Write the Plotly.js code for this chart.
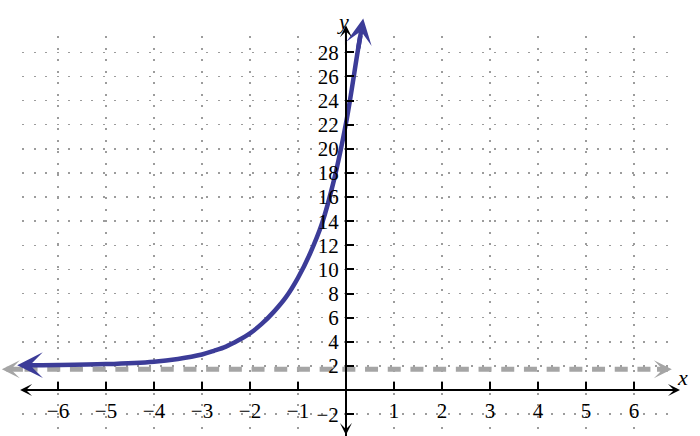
<!DOCTYPE html>
<html>
<head>
<meta charset="utf-8">
<script src="https://cdn.plot.ly/plotly-3.0.1.min.js"></script>
<style>html,body{margin:0;padding:0;background:#fff;}#chart{width:700px;height:436px;}</style>
</head>
<body>
<div id="chart"></div>
<script>
// Curve (x, y); last point is the arrow tip
const curveX = [-6.85, -6, -5, -4, -3.5, -3, -2.75, -2.5, -2.25, -2, -1.75, -1.5, -1.25, -1, -0.75, -0.5, -0.25, 0, 0.25, 0.36];
const curveY = [2.05, 2.07, 2.15, 2.35, 2.58, 2.95, 3.25, 3.6, 4.1, 4.7, 5.5, 6.5, 7.7, 9.3, 11.3, 13.8, 17.4, 22.1, 28.2, 30.8];
// Horizontal asymptote (dashed grey), ends are arrow tips
const asymX = [-7.17, 6.79];
const asymY = [1.72, 1.72];
// Axis arrow tips
const xAxisEnds = [-6.79, 6.96];
const yAxisEnds = [-3.73, 30.24];
// Ticks
const xTicks = [-6, -5, -4, -3, -2, -1, 0, 1, 2, 3, 4, 5, 6];
const xTickText = ['\u22126', '\u22125', '\u22124', '\u22123', '\u22122', '\u22121', '', '1', '2', '3', '4', '5', '6'];
const yTicks = [-2, 0, 2, 4, 6, 8, 10, 12, 14, 16, 18, 20, 22, 24, 26, 28];
const yTickText = ['\u22122', '', '2', '4', '6', '8', '10', '12', '14', '16', '18', '20', '22', '24', '26', '28'];

const xRange = [-6.75, 6.71];
const yRange = [-3.81, 29.35];

const BLUE = '#3c3c98';
const GREY = '#a5a5a5';
const FONT = "'Liberation Serif', 'Times New Roman', Times, serif";

const traces = [
  {x: asymX, y: asymY, mode: 'lines', line: {color: GREY, width: 5, dash: '13px,9.7px'}, hoverinfo: 'skip'},
  {x: curveX, y: curveY, mode: 'lines', line: {color: BLUE, width: 4.5, shape: 'spline', smoothing: 1}, hoverinfo: 'skip'}
];

function arrow(tipX, tipY, tailX, tailY, color, width, size) {
  return {x: tipX, y: tipY, ax: tailX, ay: tailY, xref: 'x', yref: 'y', axref: 'x', ayref: 'y',
    text: '', showarrow: true, arrowhead: 3, arrowcolor: color, arrowwidth: width, arrowsize: size, standoff: 0};
}
const n = curveX.length;
const annotations = [
  arrow(xAxisEnds[1], 0, 6.4, 0, '#000', 2, 1),
  arrow(xAxisEnds[0], 0, -6.4, 0, '#000', 2, 1),
  arrow(0, yAxisEnds[1], 0, 28.5, '#000', 2, 1),
  arrow(0, yAxisEnds[0], 0, -3.0, '#000', 2, 1),
  arrow(asymX[1], asymY[1], 6.45, asymY[1], GREY, 5, 0.6),
  arrow(asymX[0], asymY[0], -6.7, asymY[0], GREY, 5, 0.6),
  arrow(curveX[0], curveY[0], -6.5, 2.06, BLUE, 4.5, 0.95),
  arrow(curveX[n-1], curveY[n-1], curveX[n-2], curveY[n-2], BLUE, 4.5, 0.95),
  {x: 1.034, y: 0.11, xref: 'paper', yref: 'paper', text: '<i>x</i>', showarrow: false,
   font: {family: FONT, size: 22, color: '#000'}},
  {x: 0.497, y: 1.073, xref: 'paper', yref: 'paper', text: '<i>y</i>', showarrow: false,
   font: {family: FONT, size: 22, color: '#000'}}
];

const layout = {
  width: 700, height: 436,
  margin: {l: 22, r: 32, t: 36, b: 0, pad: 0},
  paper_bgcolor: '#fff', plot_bgcolor: '#fff',
  font: {family: FONT, size: 21, color: '#000'},
  showlegend: false,
  xaxis: {range: xRange, tickmode: 'array', tickvals: xTicks, ticktext: xTickText,
    anchor: 'free', position: (0 - yRange[0]) / (yRange[1] - yRange[0]),
    showline: true, linecolor: '#000', linewidth: 2,
    ticks: 'inside', ticklen: 7, tickwidth: 2, tickcolor: '#000', ticklabelstandoff: 2,
    showgrid: true, gridcolor: '#9c9c9c', gridwidth: 1.5, griddash: '2px,9.5px', zeroline: false,
    tickfont: {family: FONT, size: 21, color: '#000'}},
  yaxis: {range: yRange, tickmode: 'array', tickvals: yTicks, ticktext: yTickText,
    anchor: 'free', position: (0 - xRange[0]) / (xRange[1] - xRange[0]),
    showline: true, linecolor: '#000', linewidth: 2,
    ticks: 'inside', ticklen: 7, tickwidth: 2, tickcolor: '#000', ticklabelstandoff: 2,
    showgrid: true, gridcolor: '#9c9c9c', gridwidth: 1.5, griddash: '2px,9.5px', zeroline: false,
    tickfont: {family: FONT, size: 21, color: '#000'}},
  annotations: annotations
};

Plotly.newPlot('chart', traces, layout, {displayModeBar: false, staticPlot: true});
</script>
</body>
</html>
